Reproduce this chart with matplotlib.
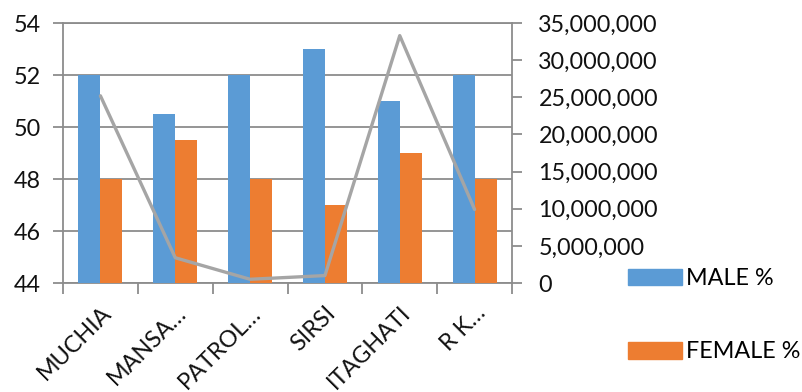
import matplotlib
matplotlib.use("Agg")
import matplotlib.pyplot as plt
import numpy as np
from matplotlib.patches import Patch
from matplotlib.ticker import FuncFormatter, FixedLocator

plt.rcParams['font.family'] = ['Lato', 'DejaVu Sans']

categories = ["MUCHIA", "MANSA…", "PATROL…", "SIRSI", "ITAGHATI", "R K…"]
male_pct = [52, 50.5, 52, 53, 51, 52]
female_pct = [48, 49.5, 48, 47, 49, 48]
population = [25200000, 3400000, 500000, 1000000, 33300000, 9900000]

blue = "#5B9BD5"
orange = "#ED7D31"
grey_line = "#A5A5A5"
axis_grey = "#8C8C8C"
text_col = "#111111"
fs = 16.8

fig = plt.figure(figsize=(8.02, 3.92), dpi=100)
W, H = 802, 392
ax = fig.add_axes([63 / W, (H - 283) / H, (512 - 63) / W, (283 - 23) / H])

x = np.arange(len(categories))
bw = 0.293
ax.bar(x - bw / 2, [v - 44 for v in male_pct], bw, bottom=44, color=blue, zorder=3)
ax.bar(x + bw / 2, [v - 44 for v in female_pct], bw, bottom=44, color=orange, zorder=3)

ax.set_xlim(-0.5, len(categories) - 0.5)
ax.set_ylim(44, 54)
ax.set_yticks(np.arange(44, 55, 2))
ax.yaxis.grid(True, color=axis_grey, lw=1.3, zorder=0)
ax.set_axisbelow(True)

ax.set_xticks(x)
ax.set_xticklabels(categories, rotation=45, ha='right', rotation_mode='anchor',
                   fontsize=fs, color=text_col)
ax.xaxis.set_minor_locator(FixedLocator(np.arange(-0.5, len(categories), 1)))
ax.tick_params(axis='x', which='major', length=0, pad=14)
ax.tick_params(axis='x', which='minor', length=8, width=1.3, color=axis_grey)
ax.tick_params(axis='y', length=7, width=1.3, color=axis_grey, labelsize=fs,
               labelcolor=text_col, pad=9)
for side in ['left', 'bottom', 'top', 'right']:
    ax.spines[side].set_color(axis_grey)
    ax.spines[side].set_linewidth(1.3)
ax.spines['right'].set_visible(False)

ax2 = ax.twinx()
ax2.plot(x, population, color=grey_line, lw=2.4, solid_joinstyle='round',
         solid_capstyle='round', zorder=5, clip_on=False)
ax2.set_ylim(0, 35000000)
ax2.set_yticks(np.arange(0, 35000001, 5000000))
ax2.yaxis.set_major_formatter(FuncFormatter(lambda v, p: f"{int(v):,}"))
ax2.tick_params(axis='y', length=7, width=1.3, color=axis_grey, labelsize=fs,
                labelcolor=text_col, pad=12)
for side in ['left', 'bottom', 'top']:
    ax2.spines[side].set_visible(False)
ax2.spines['right'].set_color(axis_grey)
ax2.spines['right'].set_linewidth(1.3)

handles = [Patch(color=blue, label="MALE %"), Patch(color=orange, label="FEMALE %")]
fig.legend(handles=handles, loc='upper left', bbox_to_anchor=(628 / W, 1 - 268 / H),
           frameon=False, fontsize=fs, handlelength=2.3, handleheight=0.7,
           handletextpad=0.2, labelspacing=2.25, borderpad=0, borderaxespad=0)

fig.savefig("out.png", dpi=100)
